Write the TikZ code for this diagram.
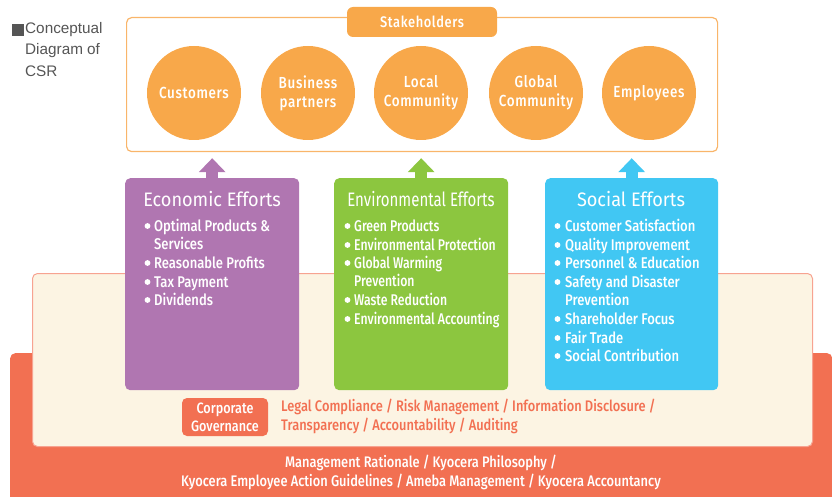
\documentclass[tikz,border=0pt]{standalone}
\usepackage{fontspec}
\setmainfont{Fira Sans}[FakeStretch=0.86]
\newfontfamily\titlef{Fira Sans}[FakeStretch=0.93]
\newfontfamily\titlefx{Fira Sans}[FakeStretch=0.77]
\newfontfamily\itemf{Fira Sans Medium}[FakeStretch=0.84]
\newfontfamily\itemfx{Fira Sans Medium}[FakeStretch=0.79]
\newfontfamily\labelf{Fira Sans Medium}[FakeStretch=0.84,LetterSpace=4]
\newfontfamily\arialf{Liberation Sans}
\usetikzlibrary{arrows.meta}

\definecolor{shorange}{HTML}{F8A84A}
\definecolor{shline}{HTML}{F9B56A}
\definecolor{purp}{HTML}{B076B1}
\definecolor{grn}{HTML}{8CC63F}
\definecolor{blu}{HTML}{41C7F3}
\definecolor{cream}{HTML}{FCF4E3}
\definecolor{creamline}{HTML}{F7A391}
\definecolor{base}{HTML}{F27052}
\definecolor{titlegray}{HTML}{555555}

\tikzset{
  panel/.style={rectangle, anchor=north west, inner sep=0pt, rounded corners=5pt},
  circ/.style={circle, fill=shorange, minimum size=94pt, inner sep=0pt,
    text=white, align=center, font=\labelf\fontsize{16}{19}\selectfont},
  efftitle/.style={text=white, inner sep=0pt, anchor=base, font=\titlef\fontsize{19.5}{22}\selectfont},
  item/.style={text=white, inner sep=0pt, anchor=base west, font=\itemf\fontsize{15.5}{18}\selectfont},
  itemx/.style={item, font=\itemfx\fontsize{15.5}{18}\selectfont},
  effarrow/.style={line width=12pt, -{Triangle[width=26pt,length=14pt]}},
}

\newcommand\itembullet[2]{\fill[white] (#1,#2) circle (2.9pt);}

\begin{document}
\begin{tikzpicture}[x=1pt,y=-1pt]
\useasboundingbox (0,0) rectangle (832,497);

% foundation layers
\node[panel, fill=base, minimum width=822pt, minimum height=160pt] (basebox) at (10,353) {};
\node[panel, fill=cream, draw=creamline, line width=1pt, minimum width=780pt, minimum height=173pt] (cream) at (32,273) {};

% title
\fill[titlegray] (12,24) rectangle (24,36);
\node[anchor=north west, inner sep=0pt, align=left, text=titlegray,
  font=\arialf\fontsize{15.3}{21.5}\selectfont] (title) at (25,22) {Conceptual\\Diagram of\\CSR};

% stakeholders
\node[panel, draw=shline, line width=1.2pt, minimum width=591pt, minimum height=134pt] (sh) at (126,17) {};
\node[rectangle, fill=shorange, rounded corners=6pt, minimum width=150pt, minimum height=30pt,
  text=white, font=\labelf\fontsize{15.3}{16}\selectfont] (shtab) at (422,22) {Stakeholders};
\node[circ] (c1) at (194,93) {Customers};
\node[circ] (c2) at (308,93) {Business\\partners};
\node[circ] (c3) at (421,93) {Local\\Community};
\node[circ] (c4) at (536,93) {Global\\Community};
\node[circ] (c5) at (649,93) {Employees};

% effort boxes
\node[panel, fill=purp, minimum width=174pt, minimum height=212pt] (eco) at (125,178) {};
\node[panel, fill=grn, minimum width=174pt, minimum height=212pt] (env) at (334,178) {};
\node[panel, fill=blu, minimum width=173pt, minimum height=212pt] (soc) at (545,178) {};

\draw[effarrow, purp] (eco.north) -- ([yshift=-6pt]eco.north |- sh.south);
\draw[effarrow, grn] (env.north) -- ([yshift=-6pt]env.north |- sh.south);
\draw[effarrow, blu] (soc.north) -- ([yshift=-6pt]soc.north |- sh.south);

\node[efftitle] (ecot) at (212,206) {Economic Efforts};
\node[efftitle, font=\titlefx\fontsize{19.5}{22}\selectfont] (envt) at (421,206) {Environmental Efforts};
\node[efftitle] (soct) at (631,206) {Social Efforts};

% economic items
\foreach \y/\b/\t [count=\i] in {226/1/Optimal Products \&, 244/0/Services, 263/1/Reasonable Profits,
    282/1/Tax Payment, 300/1/Dividends}{
  \node[item] (eco-\i) at (154,\y+5.5) {\t};
  \ifnum\b=1 \itembullet{147.5}{\y} \fi
}
% environmental items
\foreach \y/\b/\t [count=\i] in {226/1/Green Products, 245/1/Environmental Protection, 263/1/Global Warming,
    281/0/Prevention, 300/1/Waste Reduction, 319/1/Environmental Accounting}{
  \node[itemx] (env-\i) at (354,\y+5.5) {\t};
  \ifnum\b=1 \itembullet{347.5}{\y} \fi
}
% social items
\foreach \y/\b/\t [count=\i] in {226/1/Customer Satisfaction, 245/1/Quality Improvement, 263/1/Personnel \& Education,
    282/1/Safety and Disaster, 300/0/Prevention, 319/1/Shareholder Focus, 338/1/Fair Trade, 356/1/Social Contribution}{
  \node[item] (soc-\i) at (565,\y+5.5) {\t};
  \ifnum\b=1 \itembullet{557.5}{\y} \fi
}

% corporate governance
\node[panel, anchor=center, fill=base, minimum width=86pt, minimum height=38pt, text=white, align=center,
  font=\itemf\fontsize{15}{18}\selectfont] (cg) at (225,417) {Corporate\\Governance};
\node[anchor=north west, inner sep=0pt, align=left, text=base,
  font=\itemf\fontsize{15.3}{19}\selectfont] (legal) at (281,399)
  {Legal Compliance / Risk Management / Information Disclosure /\\Transparency / Accountability / Auditing};

% management foundation
\node[inner sep=0pt, align=center, text=white, font=\itemf\fontsize{15.3}{19}\selectfont] (mgmt) at (421,472)
  {Management Rationale / Kyocera Philosophy /\\Kyocera Employee Action Guidelines / Ameba Management / Kyocera Accountancy};
\end{tikzpicture}
\end{document}
